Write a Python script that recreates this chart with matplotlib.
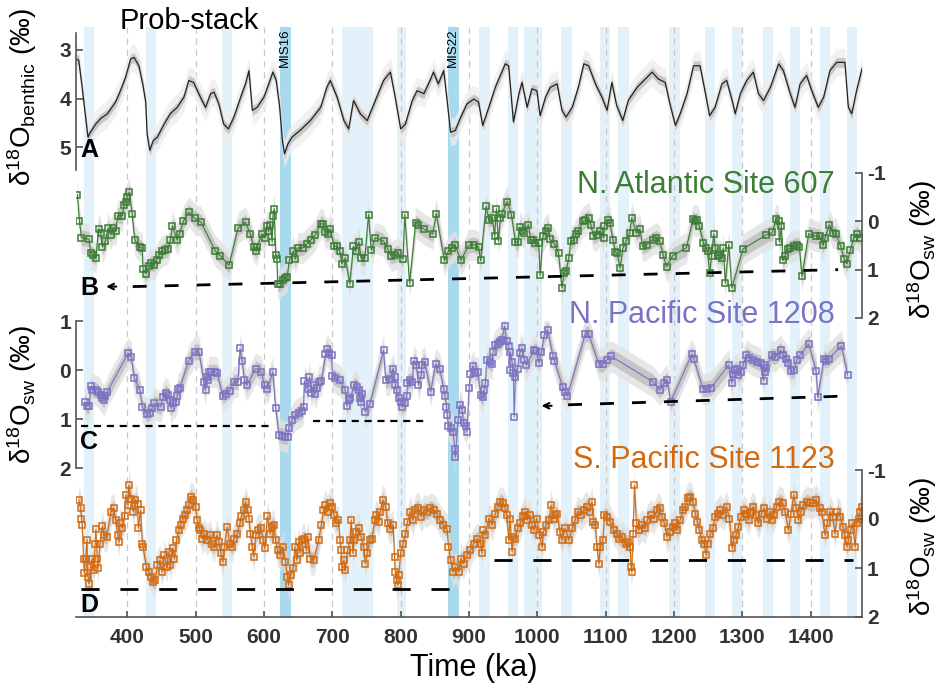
import matplotlib.pyplot as plt
import numpy as np

plt.rcParams['font.family'] = ['Liberation Sans', 'DejaVu Sans']
plt.rcParams['mathtext.default'] = 'regular'

W, H = 942, 688
XLIM = (325, 1475)

# Prob-stack benthic d18O (age ka, permil)
stack = [(326, 3.19), (329, 3.22), (334, 3.77), (339, 4.38), (342.5, 4.79), (346, 4.69), (354, 4.52),
         (361, 4.41), (371, 4.31), (383, 4.07), (390, 3.84), (397.6, 3.56), (405, 3.19), (410, 3.16),
         (417, 3.33), (423, 3.73), (427, 4.07), (429, 4.72), (433, 5.06), (438, 4.86), (444, 4.79),
         (454, 4.52), (463, 4.31), (473, 4.18), (483, 3.97), (490, 3.63), (497, 3.67), (507, 3.97),
         (514.5, 4.18), (522, 3.90), (527, 3.87), (534, 4.11), (541, 4.52), (548, 4.62), (556, 4.38),
         (566, 3.97), (573, 3.70), (578, 3.43), (583, 4.24), (590, 4.18), (600, 3.97), (607, 3.70),
         (613, 3.46), (618, 3.63), (623, 4.18), (627, 4.86), (630, 5.13), (635, 4.93), (641, 4.79),
         (653, 4.65), (668, 4.45), (683, 4.18), (692, 3.77), (697, 3.63), (707, 3.97), (717, 4.45),
         (724, 4.62), (731, 4.04), (741, 4.31), (751, 4.45), (763, 4.04), (775, 3.63), (785, 3.46),
         (792, 3.97), (800, 4.62), (807, 4.52), (817, 4.04), (824, 3.84), (834, 3.90), (843, 3.63),
         (848, 3.46), (855, 3.70), (863, 3.43), (868, 4.04), (873, 4.69), (880, 4.65), (885, 4.48),
         (887, 4.41), (897, 4.11), (907, 4.01), (914, 4.07), (920, 4.55), (929, 4.18), (938.5, 3.77),
         (948, 3.46), (953, 3.29), (958, 3.33), (965, 4.48), (973, 3.90), (977.5, 3.67), (985, 4.18),
         (992, 3.80), (999.4, 3.84), (1004, 4.35), (1012, 3.97), (1019, 3.77), (1029, 3.70), (1036, 4.24),
         (1042, 4.38), (1051, 4.18), (1060, 3.77), (1068, 3.29), (1075, 3.33), (1085, 3.70), (1094.5, 3.97),
         (1102, 4.24), (1109, 3.67), (1116, 4.14), (1125, 4.45), (1133, 4.04), (1146, 3.77), (1158, 3.60),
         (1168, 3.46), (1177, 3.60), (1187, 3.67), (1194, 4.11), (1202, 4.55), (1209, 4.31), (1219, 3.90),
         (1228.5, 3.33), (1238, 3.33), (1246, 3.90), (1252, 4.35), (1260, 4.18), (1270, 3.70), (1277, 3.63),
         (1285, 4.04), (1289.4, 4.31), (1297, 3.90), (1306.4, 3.63), (1316, 3.46), (1323.5, 3.90), (1331, 4.04),
         (1341, 3.77), (1353, 3.29), (1360, 3.43), (1370, 3.90), (1377, 4.18), (1384.4, 3.70), (1394, 3.53),
         (1401.5, 3.84), (1411, 4.18), (1419, 3.97), (1428, 3.43), (1438, 3.26), (1450, 3.26), (1455, 4.18),
         (1460, 4.31), (1467, 3.84), (1475, 3.39)]

# N. Atlantic Site 607 d18O seawater
site607 = [(327, -0.55), (330, 0.0), (333, 0.34), (344, 0.37), (346.4, 0.66), (350, 0.69), (354, 0.76),
           (358, 0.16), (361, 0.24), (363.5, 0.53), (368, 0.41), (372, 0.14), (376, 0.28), (379, 0.14),
           (383, 0.19), (386, -0.12), (393, -0.12), (395, -0.33), (397.6, -0.41), (400, -0.50), (403, -0.60),
           (407, -0.16), (411, 0.39), (418.5, 0.54), (422, 0.55), (423, 0.99), (428, 1.08), (432, 0.93),
           (435, 0.86), (439, 0.90), (443, 0.79), (447, 0.69), (451, 0.62), (454.6, 0.60), (459.5, 0.57),
           (463, 0.39), (466, 0.09), (473, 0.39), (476.5, 0.26), (482, 0.00), (490, -0.19), (499, -0.06),
           (508, 0.02), (529, 0.62), (536, 0.71), (549, 0.91), (562, 0.14), (573, 0.02), (580, 0.26),
           (585, 0.53), (589, 0.62), (590, 0.53), (597, 0.26), (601, 0.34), (605, 0.09), (607, 0.21),
           (609.5, 0.07), (612, 0.43), (613, -0.10), (615, -0.26), (617, 0.69), (619, 0.78), (620, 1.29),
           (624, 1.29), (628, 1.22), (631.5, 1.17), (634, 1.15), (637, 0.81), (643, 0.62), (646, 0.78),
           (650, 0.55), (657, 0.55), (663, 0.46), (669, 0.38), (675, 0.28), (683, 0.05), (686, 0.05),
           (690, 0.23), (694, 0.26), (697, 0.16), (703, 0.52), (707, 0.52), (711, 0.62), (714, 0.88),
           (719, 0.76), (725.5, 1.29), (731, 0.52), (734, 0.62), (739, 0.43), (742, 0.76), (747.6, 0.76),
           (753, -0.14), (757, 0.60), (763, 0.34), (775, 0.41), (781, 0.57), (786, 0.72), (792, 0.69),
           (796, 0.66), (803.5, 0.78), (806, -0.14), (813, 1.28), (822, 0.03), (826, 0.07), (834, 0.16),
           (847, 0.26), (852, -0.16), (864, 0.81), (870, 0.62), (875, 0.55), (880, 0.50), (888, 0.81),
           (899.5, 0.50), (907, 0.48), (914, 0.53), (917, 0.81), (925, -0.31), (929, -0.03), (934, -0.07),
           (937.5, 0.30), (940, -0.26), (943, 0.41), (946, -0.07), (948, -0.16), (956, -0.41), (962, -0.14),
           (968, 0.43), (972, 0.43), (974, 0.12), (977.5, 0.21), (981, 0.24), (987, 0.07), (990, 0.38),
           (994, 0.39), (997, 0.45), (1002, 0.45), (1004, 1.12), (1008, 0.31), (1012, 0.21), (1016, 0.14),
           (1018, 0.37), (1025, 0.46), (1031, 0.66), (1036, 1.38), (1039, 1.06), (1042, 1.03), (1046, 0.76),
           (1049, 0.41), (1053, 0.39), (1057, 0.26), (1060, 0.19), (1067, 0.00), (1070, -0.02), (1075, -0.07),
           (1078.3, 0.07), (1082, 0.30), (1087, 0.28), (1092, 0.19), (1097, 0.34), (1098, 0.09), (1103, -0.03),
           (1106, 0.03), (1110.5, 0.38), (1114, 0.64), (1117, 0.66), (1121, 0.97), (1125, 0.55), (1130, 0.41),
           (1135, 0.24), (1138, -0.07), (1145, 0.24), (1150, 0.16), (1154, 0.52), (1160, 0.48), (1169, 0.38),
           (1174, 0.34), (1179, 0.41), (1184, 0.69), (1189, 0.94), (1198, 0.71), (1218, 0.55), (1228, -0.05),
           (1231, 0.00), (1234, -0.03), (1237, 0.10), (1243, 0.45), (1247, 0.55), (1249, 0.62), (1252, 1.06),
           (1255, 0.71), (1258, 0.26), (1260, 0.55), (1264, 0.72), (1266.5, 0.69), (1270, 0.76), (1272, 0.55),
           (1275, 1.28), (1280, 0.48), (1284.5, 1.38), (1301, 0.57), (1335, 0.28), (1344, 0.23), (1349, -0.05),
           (1353, 0.00), (1354, 0.43), (1357, 0.09), (1359, 0.81), (1362.5, 0.71), (1367.3, 0.57), (1370, 0.55),
           (1375, 0.52), (1380, 0.48), (1383.4, 0.53), (1387, 1.14), (1397, 0.26), (1408, 0.31), (1413, 0.31),
           (1418, 0.50), (1421, 0.34), (1427.3, 0.07), (1432, 0.24), (1437, 0.26), (1444, 0.52), (1449, 0.78),
           (1453, 0.88), (1458, 0.59), (1463.3, 0.34), (1467, 0.26), (1472, 0.34)]

# N. Pacific Site 1208 d18O seawater
site1208 = [(337.6, 0.65), (340.5, 0.73), (344, 0.73), (347, 0.33), (349, 0.40), (354, 0.41), (357, 0.44),
            (361, 0.51), (363.5, 0.58), (366, 0.61), (368, 0.54), (371, 0.44), (401, -0.34), (406, -0.27),
            (410, 0.17), (418.5, 0.41), (422, 0.76), (429, 0.90), (433, 0.87), (436.5, 0.78), (439, 0.68),
            (449, 0.75), (452.6, 0.56), (456, 0.46), (459.5, 0.51), (462, 0.61), (464, 0.78), (467, 0.68),
            (470.7, 0.65), (473, 0.54), (474, 0.38), (477, 0.36), (490, -0.19), (498.4, -0.37), (505, -0.37),
            (512, 0.24), (514.5, 0.41), (516, 0.15), (518, 0.21), (519, 0.04), (522, 0.04), (529, 0.04),
            (531.6, 0.07), (540, 0.54), (544, 0.48), (550, 0.42), (556, 0.24), (562, 0.24), (565, -0.44),
            (568, -0.19), (571.5, 0.21), (575, 0.31), (588, -0.03), (596, 0.04), (601, 0.31), (605, 0.38),
            (613, 0.04), (617, 0.78), (622, 1.32), (627, 1.34), (631.5, 1.36), (635, 1.36), (636, 1.19),
            (641, 1.02), (646, 0.92), (651, 0.88), (656, 0.83), (658, 0.76), (659, 0.22), (664, 0.38),
            (666.6, 0.15), (669, 0.46), (673, 0.31), (675, 0.48), (678, 0.36), (680, 0.24), (684, 0.22),
            (690, -0.32), (692, -0.42), (695, -0.34), (699, -0.30), (700, 0.12), (704.6, 0.17), (711, 0.21),
            (719, 0.41), (721, 0.73), (724, 0.61), (726.5, 0.58), (732, 0.31), (736, 0.34), (739, 0.40),
            (740, 0.58), (742, 0.65), (743.6, 0.48), (748, 0.85), (755, 0.69), (775, -0.40), (778, 0.21),
            (784, 0.19), (789, -0.03), (791, 0.15), (792, 0.31), (794, 0.41), (797, 0.58), (800, 0.65),
            (802, 0.75), (806, 0.68), (809, 0.54), (810, 0.26), (813, 0.21), (817, 0.24), (819, -0.19),
            (823, -0.10), (826, 0.31), (830, 0.10), (831, -0.10), (835, -0.17), (844, 0.44), (851, -0.12),
            (857, -0.03), (863, 0.38), (865, 0.54), (867, 0.75), (868, 0.92), (870, 1.14), (874, 1.19),
            (877, 1.26), (879, 1.62), (880, 1.78), (884, 1.02), (887, 0.71), (890, 0.82), (892, 1.09),
            (895, 1.15), (897, 1.26), (900, 0.36), (902, 0.08), (906, -0.08), (909, 0.07), (913, 0.04),
            (917, 0.51), (920, 0.56), (922, 0.41), (924, 0.26), (926, -0.20), (930, -0.17), (934, -0.12),
            (935, -0.37), (938.5, -0.51), (942, -0.54), (945, -0.57), (948, -0.62), (952, -0.89), (955, -0.59),
            (958, -0.49), (960, 0.00), (960.4, -0.37), (963, -0.17), (965, 0.07), (966, 0.95), (968, 0.14),
            (971, -0.03), (974, -0.34), (977.5, -0.44), (981, -0.20), (984, -0.10), (995, -0.40), (998.4, -0.39),
            (1002, -0.15), (1006, -0.37), (1010, -0.71), (1015, -0.82), (1023, -0.28), (1025, -0.19),
            (1037, 0.34), (1041, 0.44), (1044, 0.53), (1070, -0.73), (1075, -0.74), (1090, -0.12), (1096, -0.12),
            (1102, -0.21), (1108, -0.28), (1169, 0.24), (1179, 0.41), (1185.5, 0.27), (1190, 0.21), (1195, 0.65),
            (1226, -0.32), (1229, -0.23), (1242, 0.38), (1248, 0.38), (1254, 0.36), (1280, -0.10), (1284.5, 0.27),
            (1286, 0.08), (1289.4, 0.00), (1292, -0.03), (1294, 0.10), (1298, 0.04), (1301, -0.10), (1305.5, -0.30),
            (1310.3, -0.25), (1315, -0.21), (1321, -0.17), (1327, -0.14), (1331, 0.22), (1332, -0.10), (1333, 0.04),
            (1335, -0.05), (1343, -0.30), (1348, -0.27), (1356, -0.40), (1360, -0.30), (1364, -0.23), (1367, -0.15),
            (1371, 0.02), (1376, 0.00), (1379.5, -0.21), (1384, -0.30), (1397, -0.53), (1408, 0.02), (1410, 0.56),
            (1419.5, -0.23), (1423, -0.19), (1426, -0.23), (1445, -0.49), (1454, 0.10)]

# S. Pacific Site 1123 d18O seawater
site1123 = [(329, -0.39), (332, -0.22), (333, -0.01), (334, 0.12), (336, 0.81), (337, 1.11), (339, 0.81),
            (341, 0.42), (342.5, 1.18), (344, 1.32), (346, 0.98), (349, 0.81), (351, 1.05), (353, 0.50),
            (354, 0.21), (356, 0.81), (357, 1.01), (360, 0.50), (363.5, 0.15), (366, 0.33), (370, 0.36),
            (376, -0.15), (380, -0.22), (383, 0.02), (386, 0.33), (388, 0.47), (389, 0.09), (393, 0.19),
            (396, -0.06), (397.6, -0.49), (401, -0.28), (402, -0.69), (406, -0.40), (409, -0.15), (412, -0.39),
            (415, -0.30), (416, 0.19), (419.5, -0.18), (422, 0.51), (423, 0.57), (428, 0.98), (432, 1.08),
            (435, 1.18), (438, 1.28), (441, 1.25), (444, 0.94), (448, 0.84), (451, 1.08), (454, 0.74),
            (457.5, 0.98), (461, 0.67), (463, 0.94), (467, 0.60), (469, 0.81), (472, 0.43), (475.5, 0.23),
            (478, 0.12), (482, -0.01), (485, -0.08), (488, -0.18), (490, -0.28), (492.6, -0.45), (496.5, -0.39),
            (500, -0.25), (502, 0.02), (505, 0.19), (507, 0.23), (510, 0.40), (513, 0.30), (517, 0.43),
            (521, 0.33), (524, 0.50), (527, 0.57), (531, 0.33), (534, 0.47), (537, 0.70), (540, 0.87),
            (542, 0.57), (546, 0.17), (550, 0.50), (553.5, 0.57), (556, 0.40), (561, 0.30), (565, 0.09),
            (567, -0.06), (570.6, -0.18), (573, -0.35), (576, -0.18), (578, -0.01), (580, 0.30), (583, 0.57),
            (585, 0.77), (588, 0.33), (591, 0.23), (595, 0.19), (599, 0.42), (601, 0.60), (605, -0.06),
            (609, 0.30), (612, 0.16), (614, 0.12), (617, 0.43), (620, 0.64), (624, 0.74), (628, 0.57),
            (631.5, 0.87), (634, 1.18), (636, 1.35), (639, 1.15), (643, 1.01), (645, 0.57), (648, 0.84),
            (651, 0.47), (653, 0.70), (656, 0.43), (659, 0.40), (662, 0.64), (664, 0.36), (668, 0.81),
            (673, 0.84), (680, 0.43), (684, 0.12), (687, -0.18), (690, -0.28), (693, -0.15), (697, -0.32),
            (700, -0.25), (702, -0.08), (706, 0.09), (709, 0.02), (711, 0.43), (713, 0.64), (714, 0.98),
            (717, 0.84), (719, 1.05), (722, 0.64), (726, 0.43), (727.5, 0.02), (730, 0.70), (732, 0.43),
            (735, 0.26), (739, 0.19), (742, 0.36), (746, 0.57), (748, 0.91), (751, 0.70), (755, 0.43),
            (758, 0.40), (762, 0.02), (764.5, -0.08), (768, 0.06), (770, -0.15), (774, -0.39), (778, -0.25),
            (781, 0.09), (785, 0.21), (789, 0.12), (791, 0.77), (792, 1.08), (794, 1.25), (796, 1.35),
            (797, 1.15), (800, 0.70), (803.5, 0.50), (807, 0.30), (810, 0.06), (814, -0.15), (818, 0.02),
            (821.5, -0.18), (826, -0.22), (830, -0.05), (834, -0.18), (839, -0.15), (843.5, -0.22), (849, -0.18),
            (853, -0.11), (857, 0.02), (862, 0.12), (868, 0.21), (870, 0.57), (873, 0.84), (877, 1.08),
            (880, 0.98), (885, 1.08), (888, 0.81), (892, 0.91), (897, 0.74), (902, 0.64), (907, 0.50),
            (912, 0.40), (917, 0.50), (919, 0.70), (921, 0.23), (924, 0.33), (929, -0.01), (934, 0.12),
            (938.5, -0.11), (942, -0.25), (946, -0.35), (950, -0.32), (953, -0.22), (955.5, -0.08), (958, 0.43),
            (960, -0.01), (963, 0.67), (965, 0.36), (968, 0.40), (971, 0.19), (975, 0.09), (979, -0.06),
            (982, -0.15), (985, 0.02), (989, -0.08), (992, 0.12), (995, 0.23), (999, -0.01), (1003, 0.33),
            (1007, 0.57), (1009, 0.26), (1013, 0.12), (1017, 0.02), (1020, -0.28), (1024, -0.01), (1026, -0.08),
            (1029, -0.11), (1033, 0.26), (1036, 0.43), (1041, 0.19), (1046, 0.43), (1051, 0.19), (1055.5, 0.02),
            (1059, -0.15), (1064, -0.08), (1068, -0.18), (1072, -0.25), (1076.4, -0.15), (1080, -0.35),
            (1082, 0.06), (1085, 0.12), (1087, 0.57), (1090, 0.91), (1092, 0.57), (1096, 0.43), (1098, -0.08),
            (1102, -0.05), (1107, 0.06), (1112, 0.23), (1116.4, 0.30), (1120, 0.40), (1124, 0.36), (1129, 0.50),
            (1132, 0.47), (1136, 0.57), (1137, 0.98), (1138, 1.08), (1140, 0.30), (1142, -0.69), (1145, 0.09),
            (1148, 0.23), (1153, 0.12), (1158, 0.19), (1161, 0.02), (1166, -0.08), (1170, -0.01), (1175, -0.18),
            (1179, -0.22), (1182, -0.05), (1186, 0.09), (1189.5, 0.36), (1193.5, 0.26), (1198, 0.16), (1202, 0.09),
            (1205, 0.23), (1209, 0.02), (1213, -0.18), (1216.3, -0.25), (1220, -0.42), (1224, -0.45), (1227.5, -0.35),
            (1231, -0.11), (1234.3, 0.06), (1237, 0.23), (1241, 0.43), (1244, 0.50), (1247, 0.74), (1249, 0.50),
            (1253, 0.30), (1257, 0.19), (1260, -0.05), (1264, -0.11), (1267.4, -0.18), (1272, -0.08), (1277, -0.25),
            (1281, -0.01), (1285, 0.60), (1287, 0.43), (1291, 0.33), (1294, 0.16), (1298, -0.05), (1302, -0.18),
            (1305.5, -0.11), (1309, 0.02), (1312, -0.15), (1316, -0.25), (1320, -0.08), (1323.5, 0.09),
            (1328, -0.11), (1332, -0.22), (1336, -0.01), (1340, -0.15), (1343, 0.02), (1346.4, -0.08), (1350, -0.25),
            (1354, -0.35), (1359, -0.32), (1362.5, -0.15), (1367.3, 0.23), (1371, -0.11), (1375, -0.49),
            (1378.6, -0.22), (1382, 0.02), (1385.4, -0.15), (1389.3, -0.28), (1394, -0.35), (1399, -0.32),
            (1404, -0.32), (1408, -0.39), (1413, -0.22), (1416, -0.15), (1421, 0.33), (1424, 0.09), (1428, -0.15),
            (1432, -0.05), (1435.5, 0.30), (1439, -0.15), (1443, -0.05), (1447, 0.16), (1450, 0.33), (1453, 0.57),
            (1455, 0.43), (1458.5, 0.23), (1461, 0.09), (1465, 0.57), (1467, 0.09), (1470, -0.01), (1472, -0.15),
            (1475, -0.25)]

# glacial stages shading (ka)
glacial_bands = [(336, 351), (428, 442), (538, 553), (714, 759), (794, 808), (915, 930), (957, 971),
                 (980, 1007), (1035, 1050), (1092, 1107), (1118, 1134), (1193, 1208), (1245, 1260),
                 (1285, 1300), (1330, 1345), (1369, 1384), (1413, 1428), (1453, 1468)]
mis_bands = [(623, 639, 'MIS16'), (869, 885, 'MIS22')]
time_ticks = [400, 500, 600, 700, 800, 900, 1000, 1100, 1200, 1300, 1400]

# dashed reference levels: (start ka, end ka, start value, end value)
levels_B = [(408, 1440, 1.35, 1.00)]
levels_C = [(332, 607, 1.14, 1.14), (672, 836, 1.04, 1.04)]
levels_C_arrow = [(1045, 1455, 0.71, 0.53)]
levels_D = [(332, 887, 1.43, 1.43), (936, 1462, 0.84, 0.84)]

GREEN = '#3b7d34'
PURPLE = '#7b72c4'
ORANGE = '#d46a0e'
SPINE = '#555555'

fig = plt.figure(figsize=(W / 100, H / 100), dpi=100)


def px_axes(x0, y0, x1, y1):
    return fig.add_axes([x0 / W, 1 - y1 / H, (x1 - x0) / W, (y1 - y0) / H])


def px_text(x, y, s, **kw):
    fig.text(x / W, 1 - y / H, s, **kw)


def style_axis(ax, side, ticks, labels):
    ax.set_xlim(XLIM)
    ax.patch.set_alpha(0)
    for sp in ax.spines.values():
        sp.set_visible(False)
    ax.spines[side].set_visible(True)
    ax.spines[side].set_color(SPINE)
    ax.spines[side].set_linewidth(1.2)
    ax.set_xticks([])
    ax.set_yticks(ticks)
    ax.set_yticklabels(labels, fontweight='bold', color='#333333', fontsize=15)
    ax.tick_params(axis='y', direction='in', length=5, color=SPINE, width=1.2,
                   left=(side == 'left'), labelleft=(side == 'left'),
                   right=(side == 'right'), labelright=(side == 'right'))


def site_plot(ax, data, color):
    data = sorted(data)
    x = np.array([d[0] for d in data])
    y = np.array([d[1] for d in data])
    ax.fill_between(x, y - 0.32, y + 0.32, color='#e2e2e2', lw=0, alpha=0.8)
    ax.fill_between(x, y - 0.16, y + 0.16, color='#bdbdbd', lw=0, alpha=0.8)
    ax.plot(x, y, '-', color=color, lw=0.8)
    ax.plot(x, y, 's', ms=3.8, mfc='none', mec=color, mew=1.1)


# background: glacial bands and dashed time lines across all panels
bg = px_axes(76, 27, 862, 618)
bg.set_xlim(XLIM)
bg.set_ylim(0, 1)
bg.axis('off')
for a, b in glacial_bands:
    bg.axvspan(a, b, color='#e3f2fa', lw=0)
for a, b, name in mis_bands:
    bg.axvspan(a, b, color='#a9d9ec', lw=0)
    bg.text((a + b) / 2, 0.998, name, rotation=90, ha='center', va='top', fontsize=9.5)
for t in time_ticks:
    bg.axvline(t, color='#c8c8c8', lw=0.9, ls=(0, (5, 4)))

# A: prob-stack
axA = px_axes(76, 33, 862, 170)
style_axis(axA, 'left', [3, 4, 5], ['3', '4', '5'])
axA.set_ylim(5.46, 2.66)
sx = np.array([d[0] for d in stack])
sy = np.array([d[1] for d in stack])
axA.fill_between(sx, sy - 0.28, sy + 0.28, color='#eeeeee', lw=0, alpha=0.8)
axA.fill_between(sx, sy - 0.1, sy + 0.1, color='#bdbdbd', lw=0, alpha=0.8)
axA.plot(sx, sy, color='#222222', lw=0.9)

# B: Site 607
axB = px_axes(76, 173, 862, 318)
style_axis(axB, 'right', [-1, 0, 1, 2], ['-1', '0', '1', '2'])
axB.set_ylim(2, -1)
site_plot(axB, site607, GREEN)
for x0, x1, y0, y1 in levels_B:
    axB.plot([x0, x1], [y0, y1], color='k', lw=2, ls=(0, (5, 6.5)))
    axB.annotate('', xy=(365, y0), xytext=(388, y0),
                 arrowprops=dict(arrowstyle='->', color='k', lw=1.5))

# C: Site 1208
axC = px_axes(76, 321, 862, 468)
style_axis(axC, 'left', [-1, 0, 1, 2], ['1', '0', '1', '2'])
axC.set_ylim(2, -1)
site_plot(axC, site1208, PURPLE)
for x0, x1, y0, y1 in levels_C:
    axC.plot([x0, x1], [y0, y1], color='k', lw=1.6, ls=(0, (3.2, 2.6)))
for x0, x1, y0, y1 in levels_C_arrow:
    axC.plot([x0, x1], [y0, y1], color='k', lw=2, ls=(0, (5, 6.5)))
    axC.annotate('', xy=(1002, y0 + 0.02), xytext=(1025, y0 + 0.02),
                 arrowprops=dict(arrowstyle='->', color='k', lw=1.5))

# D: Site 1123
axD = px_axes(76, 470, 862, 617)
style_axis(axD, 'right', [-1, 0, 1, 2], ['-1', '0', '1', '2'])
axD.set_ylim(2, -1)
site_plot(axD, site1123, ORANGE)
for x0, x1, y0, y1 in levels_D:
    axD.plot([x0, x1], [y0, y1], color='k', lw=2, ls=(0, (6.5, 7.5)))
axD.spines['bottom'].set_visible(True)
axD.spines['bottom'].set_color(SPINE)
axD.spines['bottom'].set_linewidth(1.2)
axD.set_xticks(time_ticks)
axD.set_xticklabels([str(t) for t in time_ticks], fontweight='bold', color='#333333', fontsize=15)
axD.tick_params(axis='x', direction='in', length=4, color=SPINE, width=1.2, pad=8)

# titles and labels
px_text(189, 21, 'Prob-stack', ha='center', va='center', fontsize=21)
px_text(835, 185, 'N. Atlantic Site 607', ha='right', va='center', fontsize=22, color=GREEN)
px_text(835, 315, 'N. Pacific Site 1208', ha='right', va='center', fontsize=22, color=PURPLE)
px_text(835, 460, 'S. Pacific Site 1123', ha='right', va='center', fontsize=22, color=ORANGE)

for x, y, s in [(80, 150, 'A'), (80, 288, 'B'), (80, 442, 'C'), (80, 605, 'D')]:
    px_text(x, y, s, ha='left', va='center', fontsize=18, fontweight='bold')

px_text(22, 97, r'$\delta^{18}$O$_{benthic}$ (‰)', rotation=90, ha='center', va='center', fontsize=20)
px_text(22, 395, r'$\delta^{18}$O$_{sw}$ (‰)', rotation=90, ha='center', va='center', fontsize=20)
px_text(922, 250, r'$\delta^{18}$O$_{sw}$ (‰)', rotation=90, ha='center', va='center', fontsize=20)
px_text(922, 547, r'$\delta^{18}$O$_{sw}$ (‰)', rotation=90, ha='center', va='center', fontsize=20)
px_text(474, 668, 'Time (ka)', ha='center', va='center', fontsize=22)

fig.savefig('out.png', dpi=100)
